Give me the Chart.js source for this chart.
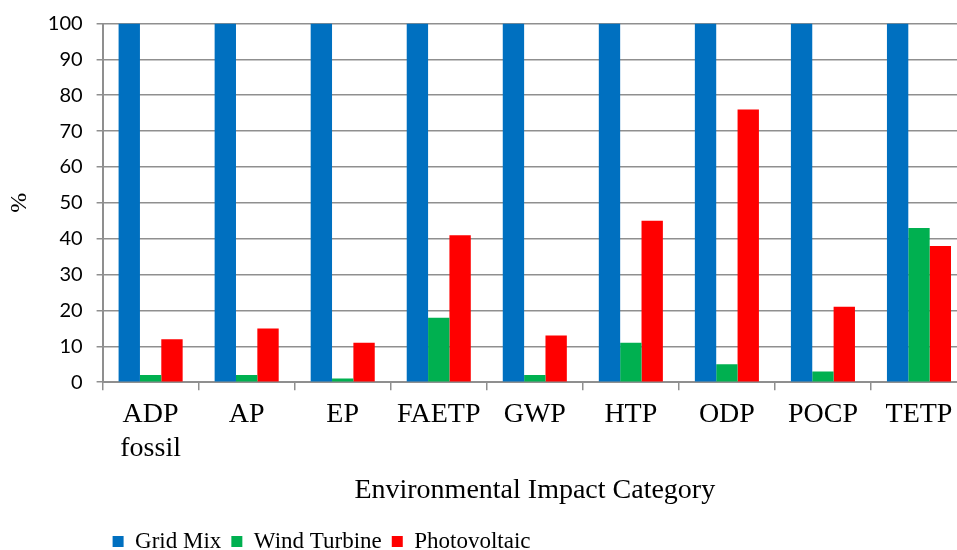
<!DOCTYPE html>
<html>
<head>
<meta charset="utf-8">
<script src="https://cdn.jsdelivr.net/npm/chart.js@4/dist/chart.umd.min.js"></script>
<style>
  html, body { margin: 0; padding: 0; background: #fff; overflow: hidden; }
  #wrap { width: 967px; height: 563px; }
</style>
</head>
<body>
<div id="wrap"><canvas id="impactChart"></canvas></div>
<script>
// categories and series (% relative to grid mix)
const categories = [["ADP", "fossil"], "AP", "EP", "FAETP", "GWP", "HTP", "ODP", "POCP", "TETP"];
const gridMix = [100, 100, 100, 100, 100, 100, 100, 100, 100];
const windTurbine = [2, 2, 1, 18, 2, 11, 5, 3, 43];
const photovoltaic = [12, 15, 11, 41, 13, 45, 76, 21, 38];
const yTicks = [0, 10, 20, 30, 40, 50, 60, 70, 80, 90, 100];

const serif = "'Liberation Serif', 'Times New Roman', serif";
const gridColor = "#8f8f8f";

// canvas is a bit larger than the window: the plot runs past the right edge like the original
new Chart(document.getElementById("impactChart"), {
  type: "bar",
  data: {
    labels: categories,
    datasets: [
      { label: "Grid Mix", data: gridMix, backgroundColor: "#0070C0" },
      { label: "Wind Turbine", data: windTurbine, backgroundColor: "#00B050" },
      { label: "Photovoltaic", data: photovoltaic, backgroundColor: "#FF0000" },
    ],
  },
  options: {
    responsive: true,
    maintainAspectRatio: false,
    animation: false,
    layout: { padding: { top: 0, right: 0, left: 5, bottom: 0 } },
    datasets: { bar: { categoryPercentage: 0.667, barPercentage: 1.0 } },
    scales: {
      x: {
        grid: {
          offset: true,
          drawOnChartArea: false,
          drawTicks: true,
          tickLength: 8,
          color: gridColor,
          lineWidth: 1.5,
        },
        border: { color: gridColor, width: 2 },
        ticks: {
          color: "#000",
          font: { family: serif, size: 28 },
          padding: 8,
          maxRotation: 0,
          autoSkip: false,
        },
        title: {
          display: true,
          text: "Environmental Impact Category",
          color: "#000",
          font: { family: serif, size: 28 },
          padding: { top: 0, bottom: 13 },
        },
      },
      y: {
        min: 0,
        max: 100,
        afterBuildTicks: (axis) => {
          axis.ticks = yTicks.map((v) => ({ value: v }));
        },
        grid: {
          color: gridColor,
          lineWidth: 1.5,
          drawTicks: true,
          tickLength: 6,
        },
        border: { color: gridColor, width: 2 },
        ticks: {
          color: "#000",
          font: { family: "Lato, 'Open Sans', sans-serif", size: 20, lineHeight: 0.95 },
          padding: 14,
        },
        title: {
          display: true,
          text: "%",
          color: "#000",
          font: { family: serif, size: 24 },
          padding: { top: 0, bottom: 0 },
        },
      },
    },
    plugins: {
      legend: {
        position: "bottom",
        align: "start",
        fullSize: false,
        labels: {
          color: "#000",
          font: { family: serif, size: 23 },
          boxWidth: 11,
          boxHeight: 11,
          padding: 10,
        },
      },
      tooltip: { enabled: false },
    },
  },
});
</script>
</body>
</html>
